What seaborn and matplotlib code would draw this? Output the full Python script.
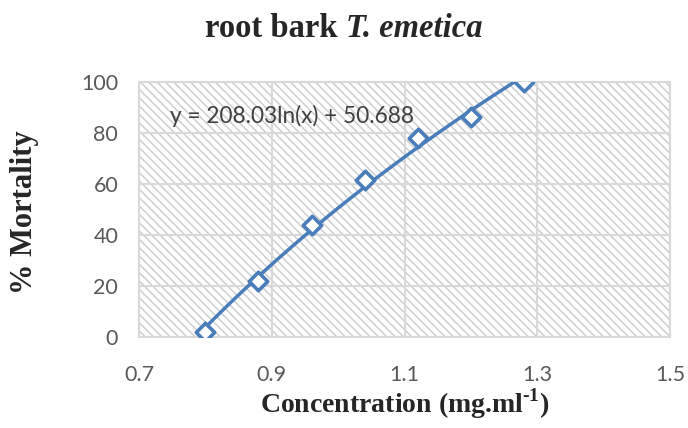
import matplotlib
matplotlib.use("Agg")
import matplotlib.pyplot as plt
import seaborn as sns
import pandas as pd
from matplotlib.patches import Rectangle

concentration = [0.80, 0.88, 0.96, 1.04, 1.12, 1.20, 1.28]
mortality = [2.0, 22.0, 44.0, 61.5, 78.0, 86.0, 100.0]
x_ticks = [0.7, 0.9, 1.1, 1.3, 1.5]
y_ticks = [0, 20, 40, 60, 80, 100]
equation = "y = 208.03ln(x) + 50.688"

df = pd.DataFrame({"conc": concentration, "mort": mortality})

sns.set_style("white")
plt.rcParams["font.family"] = ["Lato", "DejaVu Sans"]
plt.rcParams["mathtext.fontset"] = "custom"
plt.rcParams["mathtext.rm"] = "Liberation Serif:bold"
plt.rcParams["mathtext.bf"] = "Liberation Serif:bold"
plt.rcParams["hatch.linewidth"] = 1.1

fig = plt.figure(figsize=(6.88, 4.28), dpi=100)
ax = fig.add_axes([0.202, 0.2126, 0.772, 0.5965])

grey = "#d9d9d9"
bg = Rectangle((0, 0), 1, 1, transform=ax.transAxes, facecolor="white",
               edgecolor="#cfcfcf", linewidth=0, hatch="\\\\\\\\", zorder=0)
ax.add_patch(bg)

blue = "#4a7ebb"
# logarithmic trendline fitted to the points
sns.regplot(data=df, x="conc", y="mort", ax=ax, logx=True, ci=None,
            scatter=False, truncate=True, line_kws=dict(color=blue, lw=2.5, zorder=4))
sns.scatterplot(data=df, x="conc", y="mort", ax=ax, marker="D", s=88,
                color="white", edgecolor=blue, linewidth=2.6, zorder=5)

ax.set_xlim(0.7, 1.5)
ax.set_ylim(0, 100)
ax.set_xticks(x_ticks)
ax.set_yticks(y_ticks)
ax.set_xticklabels([f"{v:.1f}" for v in x_ticks])
ax.set_yticklabels([str(v) for v in y_ticks])
ax.tick_params(axis="both", length=0, labelsize=15.5, labelcolor="#595959")
ax.tick_params(axis="y", pad=15)
ax.tick_params(axis="x", pad=20.5)
ax.grid(True, color=grey, lw=1.5, zorder=1)
ax.set_axisbelow(True)
for s in ax.spines.values():
    s.set_color(grey)
    s.set_linewidth(1.5)
ax.set_xlabel("")
ax.set_ylabel("")

ax.text(0.058, 0.866, equation, transform=ax.transAxes, fontsize=16.3,
        color="#404040", va="center", ha="left", zorder=6)

# title: upright bold part + bold italic species name, centred together
t1 = fig.text(0, 1 - 37 / 428, "root bark ", ha="left", va="baseline",
              fontsize=23.5, family="Liberation Serif", fontweight="bold")
t2 = fig.text(0, 1 - 37 / 428, "T. emetica", ha="left", va="baseline",
              fontsize=23.5, family="Liberation Serif", fontweight="bold",
              style="italic")
r = fig.canvas.get_renderer()
w1 = t1.get_window_extent(r).width
w2 = t2.get_window_extent(r).width
x0 = 344 - (w1 + w2) / 2
t1.set_x(x0 / 688)
t2.set_x((x0 + w1) / 688)

fig.text(405 / 688, 1 - 413 / 428, r"Concentration (mg.ml$^{\text{-1}}$)",
         ha="center", va="baseline", fontsize=20, family="Liberation Serif",
         fontweight="bold")
fig.text(25 / 688, 1 - 212 / 428, "% Mortality", rotation=90,
         ha="center", va="center", fontsize=22, family="Liberation Serif",
         fontweight="bold")

fig.savefig("out.png", dpi=100)
